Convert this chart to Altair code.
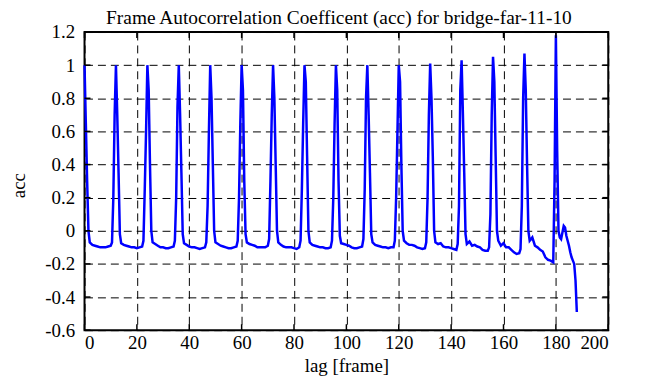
import altair as alt
import pandas as pd

lag = [
    0, 0.5, 1, 1.5, 2, 3, 4, 5, 6, 7, 8, 9, 10,
    10.5, 11, 11.5, 12, 12.5, 13, 13.5, 14, 15, 16, 17, 18, 19, 20, 21, 22,
    22.5, 23, 23.5, 24, 24.5, 25, 25.5, 26, 27, 28, 29, 30, 31, 32, 33, 34,
    34.5, 35, 35.5, 36, 36.5, 37, 37.5, 38, 39, 40, 41, 42, 43, 44, 45, 46,
    46.5, 47, 47.5, 48, 48.5, 49, 49.5, 50, 51, 52, 53, 54, 55, 56, 57, 58,
    58.5, 59, 59.5, 60, 60.5, 61, 61.5, 62, 63, 64, 65, 66, 67, 68, 69, 70,
    70.5, 71, 71.5, 72, 72.5, 73, 73.5, 74, 75, 76, 77, 78, 79, 80, 81, 82,
    82.5, 83, 83.5, 84, 84.5, 85, 85.5, 86, 87, 88, 89, 90, 91, 92, 93, 94,
    94.5, 95, 95.5, 96, 96.5, 97, 97.5, 98, 99, 100, 101, 102, 103, 104, 105, 106,
    106.5, 107, 107.5, 108, 108.5, 109, 109.5, 110, 111, 112, 113, 114, 115, 116, 117, 118,
    118.5, 119, 119.5, 120, 120.5, 121, 121.5, 122, 123, 124, 125, 126, 127, 128, 129, 130,
    130.5, 131, 131.5, 132, 132.5, 133, 133.5, 134, 135, 136, 137, 138, 139, 140, 141, 142,
    142.5, 143, 143.5, 144, 144.5, 145, 145.5, 146, 147, 148, 149, 150, 151, 152, 153, 154,
    154.5, 155, 155.5, 156, 156.5, 157, 157.5, 158, 159, 160, 161, 162, 163, 164, 165, 166,
    166.5, 167, 167.5, 168, 168.5, 169, 169.5, 170, 171, 172, 173, 174, 175, 176, 177, 178,
    179, 179.5, 180, 180.5, 181, 181.5, 182, 182.5, 183, 183.5, 184, 184.5, 185, 185.5, 186, 186.5, 187, 187.5, 188,
]

acc = [
    1.0, 0.65, 0.3, 0.0, -0.07, -0.085, -0.09, -0.095, -0.1, -0.1, -0.1, -0.095, -0.09,
    -0.07, 0.2, 0.7, 1.0, 0.7, 0.35, -0.02, -0.075, -0.085, -0.09, -0.095, -0.1, -0.1, -0.105, -0.1, -0.095,
    -0.06, 0.25, 0.6, 1.0, 0.85, 0.4, 0.0, -0.07, -0.08, -0.09, -0.1, -0.1, -0.105, -0.105, -0.1, -0.095,
    -0.06, 0.2, 0.75, 1.0, 0.7, 0.35, -0.02, -0.075, -0.085, -0.095, -0.1, -0.1, -0.105, -0.11, -0.105, -0.1,
    -0.07, 0.15, 0.6, 1.0, 0.8, 0.4, 0.0, -0.07, -0.08, -0.09, -0.095, -0.1, -0.105, -0.105, -0.1, -0.095,
    -0.06, 0.2, 0.65, 1.0, 0.85, 0.3, -0.02, -0.07, -0.08, -0.085, -0.09, -0.1, -0.1, -0.1, -0.1, -0.09,
    -0.05, 0.3, 0.7, 1.0, 0.8, 0.4, 0.0, -0.07, -0.085, -0.095, -0.1, -0.1, -0.1, -0.105, -0.11, -0.1,
    -0.06, 0.25, 0.65, 1.0, 0.9, 0.45, 0.0, -0.07, -0.085, -0.09, -0.095, -0.1, -0.1, -0.105, -0.105, -0.1,
    -0.06, 0.2, 0.65, 1.0, 0.85, 0.3, -0.03, -0.075, -0.08, -0.085, -0.09, -0.1, -0.105, -0.105, -0.1, -0.095,
    -0.05, 0.25, 0.8, 1.0, 0.7, 0.35, -0.02, -0.07, -0.085, -0.09, -0.095, -0.1, -0.1, -0.105, -0.1, -0.1,
    -0.06, 0.2, 0.6, 1.0, 0.9, 0.4, 0.0, -0.06, -0.075, -0.085, -0.085, -0.09, -0.1, -0.105, -0.11, -0.105,
    -0.07, 0.2, 0.7, 1.01, 0.8, 0.45, 0.0, -0.07, -0.08, -0.075, -0.095, -0.1, -0.1, -0.105, -0.11, -0.115,
    -0.08, 0.15, 0.85, 1.03, 0.7, 0.35, -0.02, -0.08, -0.065, -0.09, -0.085, -0.095, -0.1, -0.115, -0.12, -0.12,
    -0.1, 0.1, 0.7, 1.05, 0.9, 0.45, 0.0, -0.06, -0.09, -0.075, -0.1, -0.1, -0.115, -0.13, -0.14, -0.135,
    -0.11, 0.15, 0.8, 1.07, 0.85, 0.4, 0.0, -0.06, -0.04, -0.09, -0.1, -0.115, -0.125, -0.16, -0.175, -0.18,
    -0.19, 0.3, 1.18, 0.48, 0.0, -0.04, -0.05, -0.01, 0.03, 0.02, -0.03, -0.06, -0.09, -0.13, -0.16, -0.18, -0.2, -0.3, -0.49,
]
assert len(lag) == len(acc)

x_ticks = [0, 20, 40, 60, 80, 100, 120, 140, 160, 180, 200]
y_ticks = [-0.6, -0.4, -0.2, 0.0, 0.2, 0.4, 0.6, 0.8, 1.0, 1.2]

title_text = "Frame Autocorrelation Coefficent (acc) for bridge-far-11-10"
x_title = "lag [frame]"
y_title = "acc"

FONT = "Times New Roman, Liberation Serif, DejaVu Serif, serif"
FS = 19
W, H = 527, 300

df = pd.DataFrame({"lag": lag, "acc": acc})
xt = pd.DataFrame({"lag": x_ticks})
yt = pd.DataFrame({"acc": y_ticks})
tt = pd.DataFrame({"title": [title_text]})

xscale = alt.Scale(domain=[0, 200], nice=False, zero=False)
yscale = alt.Scale(domain=[-0.6, 1.2], nice=False, zero=False)

common_axis = dict(
    grid=True, gridColor="black", gridDash=[8, 5], gridWidth=1, gridOpacity=1,
    ticks=False, tickSize=0, domain=False,
    labelFont=FONT, labelFontSize=FS, labelColor="black",
    titleFont=FONT, titleFontSize=FS, titleFontWeight="normal", titleColor="black",
)

x_axis = alt.Axis(values=x_ticks, title=x_title, labelPadding=3,
                  titleBaseline="alphabetic", titleY=42, titleAnchor="middle",
                  **common_axis)
y_axis = alt.Axis(values=y_ticks, title=y_title, labelPadding=10,
                  labelExpr="'' + round(datum.value*10)/10",
                  titleAngle=270, titleBaseline="middle", titleAlign="center",
                  titleX=-66, titleY=154, **common_axis)

line = alt.Chart(df).mark_line(color="#0000ff", strokeWidth=2.5).encode(
    x=alt.X("lag:Q", scale=xscale, axis=x_axis),
    y=alt.Y("acc:Q", scale=yscale, axis=y_axis),
)

tick_style = dict(color="black", strokeWidth=1.5)
bottom_ticks = alt.Chart(xt).mark_rule(**tick_style).encode(
    x=alt.X("lag:Q", scale=xscale, axis=x_axis), y=alt.value(H), y2=alt.value(H - 6))
top_ticks = alt.Chart(xt).mark_rule(**tick_style).encode(
    x=alt.X("lag:Q", scale=xscale, axis=x_axis), y=alt.value(0), y2=alt.value(6))
left_ticks = alt.Chart(yt).mark_rule(**tick_style).encode(
    y=alt.Y("acc:Q", scale=yscale, axis=y_axis), x=alt.value(0), x2=alt.value(6))
right_ticks = alt.Chart(yt).mark_rule(**tick_style).encode(
    y=alt.Y("acc:Q", scale=yscale, axis=y_axis), x=alt.value(W), x2=alt.value(W - 6))

title_mark = alt.Chart(tt).mark_text(
    font=FONT, fontSize=19.5, color="black", align="center", baseline="alphabetic"
).encode(text="title:N", x=alt.value(256), y=alt.value(-8))

chart = alt.layer(line, bottom_ticks, top_ticks, left_ticks, right_ticks, title_mark).properties(
    width=W, height=H,
    autosize=alt.AutoSizeParams(type="none"),
    padding={"left": 77, "top": 23, "right": 40, "bottom": 56},
    background="white",
).configure_view(stroke="black", strokeWidth=2)

chart.save("out.html", embed_options={"renderer": "svg", "actions": False})
